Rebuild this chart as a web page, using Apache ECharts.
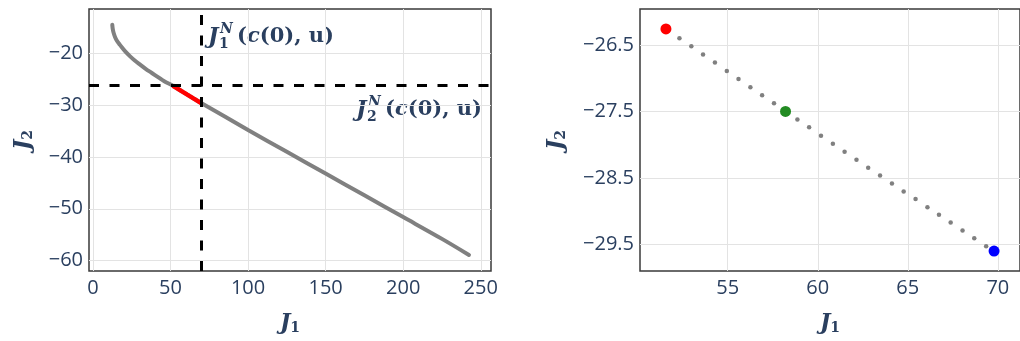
<!DOCTYPE html>
<html><head><meta charset="utf-8">
<script src="https://cdn.jsdelivr.net/npm/echarts@6/dist/echarts.min.js"></script>
<style>html,body{margin:0;padding:0;background:#fff}#c{width:1020px;height:341px}</style>
</head><body><div id="c"></div>
<script>
// Full Pareto curve (left panel)
const curveJ1 = [12.5, 12.8, 13.3, 14.2, 15.5, 17.0, 18.5, 21.0, 24.0, 27.0, 30.0, 34.0, 38.0, 42.0, 46.0, 51.6,
                 58.2, 64.0, 69.8, 85.0, 100.0, 125.0, 150.0, 175.0, 200.0, 225.0, 242.4];
const curveJ2 = [-14.5, -15.3, -16.0, -16.8, -17.6, -18.2, -18.8, -19.7, -20.6, -21.4, -22.1, -23.0, -23.8, -24.6, -25.4, -26.26,
                 -27.5, -28.55, -29.6, -32.2, -34.8, -39.0, -43.2, -47.4, -51.6, -55.8, -58.9];
// Zoomed Pareto points (right panel)
const frontJ1 = [52.32, 52.98, 53.63, 54.29, 54.95, 55.60, 56.26, 56.91, 57.57, 58.21, 58.87, 59.52, 60.18, 60.84,
                 61.49, 62.15, 62.80, 63.46, 64.12, 64.77, 65.43, 66.09, 66.73, 67.38, 68.04, 68.69, 69.35];
const frontJ2 = [-26.40, -26.52, -26.646, -26.766, -26.892, -27.012, -27.138, -27.258, -27.379, -27.499, -27.62, -27.74,
                 -27.865, -27.986, -28.106, -28.227, -28.347, -28.463, -28.583, -28.704, -28.819, -28.94, -29.055,
                 -29.171, -29.291, -29.407, -29.527];
const highlightJ1 = [51.57, 58.21, 69.79];
const highlightJ2 = [-26.26, -27.50, -29.60];
const highlightColors = ['#ff0000', '#228b22', '#0000ff'];
const nadirJ1 = 69.79;
const nadirJ2 = -26.26;
const leftXTicks = [0, 50, 100, 150, 200, 250];
const leftYTicks = [-20, -30, -40, -50, -60];
const rightXTicks = [55, 60, 65, 70];
const rightYTicks = [-26.5, -27.5, -28.5, -29.5];

const TXT = '#2a3f5f';
const SERIF = '"DejaVu Serif"';
const fmt = v => String(v).replace('-', '\u2212');
const labelStyle = {color: TXT, fontFamily: '"Open Sans"', fontSize: 20};
const nameRich = {
  j: {fontFamily: SERIF, fontStyle: 'italic', fontWeight: 'bold', fontSize: 22, color: TXT, lineHeight: 24, verticalAlign: 'middle'},
  s: {fontFamily: SERIF, fontWeight: 'bold', fontSize: 14, color: TXT, lineHeight: 14, verticalAlign: 'bottom'}
};
function xAxisCfg(grid, min, max, ticks) {
  return {gridIndex: grid, type: 'value', min: min, max: max,
    name: '{j|J}{s|1}', nameLocation: 'middle', nameGap: 40, nameTextStyle: {rich: nameRich},
    axisLine: {show: false}, axisTick: {show: false, customValues: ticks},
    axisLabel: Object.assign({customValues: ticks, margin: 7, formatter: fmt}, labelStyle),
    splitLine: {show: true, lineStyle: {color: '#e3e3e3', width: 1}}};
}
function yAxisCfg(grid, min, max, ticks, gap) {
  return {gridIndex: grid, type: 'value', min: min, max: max,
    name: '{j|J}{s|2}', nameLocation: 'middle', nameGap: gap, nameRotate: 90, nameTextStyle: {rich: nameRich},
    axisLine: {show: false}, axisTick: {show: false, customValues: ticks},
    axisLabel: Object.assign({customValues: ticks, margin: 6, formatter: fmt}, labelStyle),
    splitLine: {show: true, lineStyle: {color: '#e3e3e3', width: 1}}};
}

const curveData = curveJ1.map((x, i) => [x, curveJ2[i]]);
const segJ1 = [highlightJ1[0]].concat(frontJ1, [highlightJ1[2]]);
const segJ2 = [highlightJ2[0]].concat(frontJ2, [highlightJ2[2]]);
const segData = segJ1.map((x, i) => [x, segJ2[i]]);
const frontData = frontJ1.map((x, i) => [x, frontJ2[i]]);
const hiData = highlightJ1.map((x, i) => ({value: [x, highlightJ2[i]], itemStyle: {color: highlightColors[i], opacity: 1}}));

function annot(x, y, sub) {
  const base = {fill: TXT, fontFamily: SERIF, fontWeight: 'bold', verticalAlign: 'middle'};
  return {type: 'group', x: x, y: y, children: [
    {type: 'text', x: 0, y: 0, style: Object.assign({}, base, {text: 'J', fontSize: 22, fontStyle: 'italic'})},
    {type: 'text', x: 12, y: -8, style: Object.assign({}, base, {text: 'N', fontSize: 14, fontStyle: 'italic'})},
    {type: 'text', x: 11, y: 7, style: Object.assign({}, base, {text: sub, fontSize: 14})},
    {type: 'text', x: 29, y: 0, style: Object.assign({}, base, {
      text: '{p|(}{i|c}{p|(0), }{p|u}{p|)}',
      rich: {
        p: {fontFamily: SERIF, fontWeight: 'bold', fontSize: 21, fill: TXT},
        i: {fontFamily: SERIF, fontWeight: 'bold', fontStyle: 'italic', fontSize: 21, fill: TXT}
      }})}
  ]};
}

const chart = echarts.init(document.getElementById('c'), null, {renderer: 'canvas'});
chart.setOption({
  animation: false,
  backgroundColor: '#fff',
  grid: [
    {left: 89, top: 9, width: 402, height: 262, show: true, borderColor: '#3a3a3a', borderWidth: 1.5, backgroundColor: 'transparent'},
    {left: 640, top: 9, width: 386, height: 262, show: true, borderColor: '#3a3a3a', borderWidth: 1.5, backgroundColor: 'transparent'}
  ],
  xAxis: [xAxisCfg(0, -2.5, 256.6, leftXTicks), xAxisCfg(1, 50.13, 71.23, rightXTicks)],
  yAxis: [yAxisCfg(0, -62, -11.46, leftYTicks, 54), yAxisCfg(1, -29.9, -25.96, rightYTicks, 72)],
  series: [
    {type: 'line', xAxisIndex: 0, yAxisIndex: 0, data: curveData, showSymbol: false, smooth: 0.3,
     lineStyle: {color: '#808080', width: 4, cap: 'round'}, silent: true},
    {type: 'line', xAxisIndex: 0, yAxisIndex: 0, data: segData, showSymbol: false,
     lineStyle: {color: '#ff0000', width: 4.5}, silent: true,
     markLine: {silent: true, symbol: 'none', label: {show: false},
       lineStyle: {color: '#000', width: 3, type: [10, 10.5]},
       data: [{xAxis: nadirJ1}, {yAxis: nadirJ2}]}},
    {type: 'scatter', xAxisIndex: 1, yAxisIndex: 1, data: frontData, symbolSize: 4.5,
     itemStyle: {color: '#808080', opacity: 1}, silent: true},
    {type: 'scatter', xAxisIndex: 1, yAxisIndex: 1, data: hiData, symbolSize: 11, silent: true}
  ],
  graphic: [annot(208, 37, '1'), annot(356, 110, '2')]
});
</script></body></html>
